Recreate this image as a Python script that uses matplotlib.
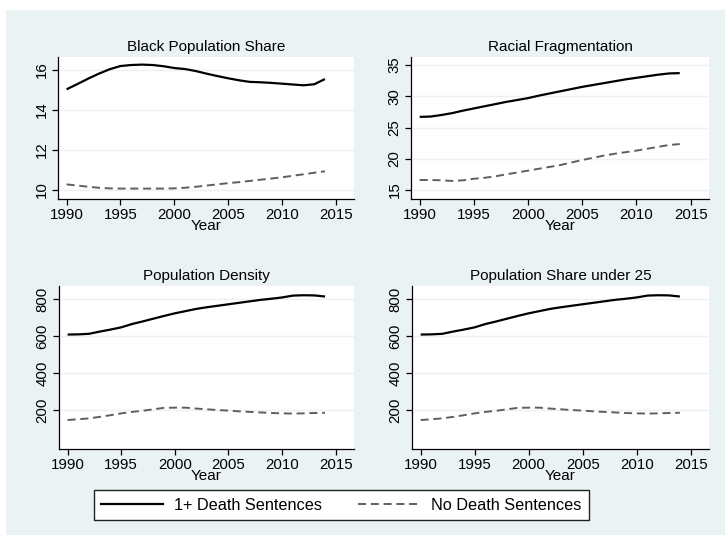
import matplotlib
matplotlib.use("Agg")
import matplotlib.pyplot as plt
from matplotlib.patches import Rectangle
from matplotlib.lines import Line2D

plt.rcParams["font.family"] = ["Liberation Sans", "DejaVu Sans"]
plt.rcParams["lines.scale_dashes"] = False

# ===== DATA =====
years = list(range(1990, 2015))

black_ds = [15.02, 15.28, 15.55, 15.80, 16.02, 16.18, 16.23, 16.25, 16.23, 16.17,
            16.08, 16.03, 15.93, 15.80, 15.68, 15.57, 15.47, 15.39, 15.37, 15.34,
            15.30, 15.26, 15.22, 15.27, 15.53]
black_none = [10.28, 10.22, 10.16, 10.11, 10.08, 10.07, 10.07, 10.07, 10.07, 10.07,
              10.08, 10.11, 10.16, 10.22, 10.28, 10.34, 10.39, 10.45, 10.51, 10.57,
              10.63, 10.71, 10.78, 10.86, 10.93]

frag_ds = [26.70, 26.75, 27.00, 27.30, 27.70, 28.05, 28.40, 28.75, 29.10, 29.40,
           29.70, 30.10, 30.45, 30.80, 31.15, 31.50, 31.80, 32.10, 32.40, 32.70,
           32.95, 33.20, 33.45, 33.65, 33.70]
frag_none = [16.60, 16.60, 16.55, 16.45, 16.55, 16.80, 16.95, 17.20, 17.50, 17.80,
             18.10, 18.40, 18.70, 19.00, 19.40, 19.80, 20.15, 20.50, 20.80, 21.05,
             21.30, 21.60, 21.90, 22.20, 22.35]

density_ds = [609, 610, 613, 625, 636, 648, 666, 680, 695, 710,
              724, 736, 748, 757, 765, 773, 781, 789, 797, 803,
              810, 820, 822, 821, 815]
density_none = [146, 150, 155, 163, 172, 182, 190, 196, 204, 212,
                213, 213, 208, 204, 200, 197, 193, 190, 187, 184,
                182, 181, 182, 184, 185]

under25_ds = [609, 610, 613, 625, 636, 648, 666, 680, 695, 710,
              724, 736, 748, 757, 765, 773, 781, 789, 797, 803,
              810, 820, 822, 821, 815]
under25_none = [146, 150, 155, 163, 172, 182, 190, 196, 204, 212,
                213, 213, 208, 204, 200, 197, 193, 190, 187, 184,
                182, 181, 182, 184, 185]

xticks = [1990, 1995, 2000, 2005, 2010, 2015]

panels = [
    ("Black Population Share", black_ds, black_none, [10, 12, 14, 16], (9.55, 16.63)),
    ("Racial Fragmentation", frag_ds, frag_none, [15, 20, 25, 30, 35], (13.56, 36.28)),
    ("Population Density", density_ds, density_none, [200, 400, 600, 800], (-11, 872)),
    ("Population Share under 25", under25_ds, under25_none, [200, 400, 600, 800], (-11, 872)),
]

# axes boxes in pixels: left, right, top, bottom
boxes = [(58, 354, 57, 199), (411, 709, 57, 199), (59, 354, 286, 449), (412, 709, 286, 449)]

W, H = 725, 535
BG = "#EAF2F3"
DASH_COLOR = "#5f5f5f"

fig = plt.figure(figsize=(W / 100, H / 100), dpi=100, facecolor="white")
fig.patches.append(Rectangle((6 / W, 0), (W - 6) / W, (H - 10) / H,
                             transform=fig.transFigure, facecolor=BG,
                             edgecolor="none", zorder=-10))

for (title, ds, none, yticks, ylim), (l, r, t, b) in zip(panels, boxes):
    ax = fig.add_axes([l / W, 1 - b / H, (r - l) / W, (b - t) / H])
    ax.set_facecolor("white")
    ax.plot(years, ds, color="black", lw=1.6, solid_capstyle="butt")
    ax.plot(years, none, color=DASH_COLOR, lw=1.4, linestyle=(0, (5.8, 3.4)))
    ax.set_xlim(1989.2, 2016.7)
    ax.set_ylim(*ylim)
    ax.set_xticks(xticks)
    ax.set_yticks(yticks)
    ax.grid(axis="y", color=BG, lw=1.0)
    ax.set_axisbelow(True)
    for s in ["top", "right"]:
        ax.spines[s].set_visible(False)
    for s in ["left", "bottom"]:
        ax.spines[s].set_linewidth(0.9)
        ax.spines[s].set_color("black")
    ax.tick_params(direction="out", length=4.3, width=0.9, labelsize=10.8, pad=2)
    ax.tick_params(axis="y", labelrotation=90, pad=2.5)
    for lab in ax.get_yticklabels():
        lab.set_va("center")
    ax.set_title(title, fontsize=11, pad=4)
    ax.set_xlabel("Year", fontsize=11, labelpad=-2)

# ===== LEGEND =====
handles = [Line2D([], [], color="black", lw=1.6),
           Line2D([], [], color=DASH_COLOR, lw=1.4, linestyle=(0, (5.8, 3.4)))]
leg = fig.legend(handles, ["1+ Death Sentences", "No Death Sentences"],
                 loc="center", bbox_to_anchor=(341.5 / W, 1 - 505 / H), ncol=2,
                 fontsize=11.7, handlelength=3.8, handletextpad=0.7,
                 columnspacing=2.2, borderpad=0.45, fancybox=False,
                 framealpha=1, edgecolor="#222222")
leg.get_frame().set_linewidth(1.0)

fig.savefig("out.png", dpi=100, facecolor=fig.get_facecolor())
